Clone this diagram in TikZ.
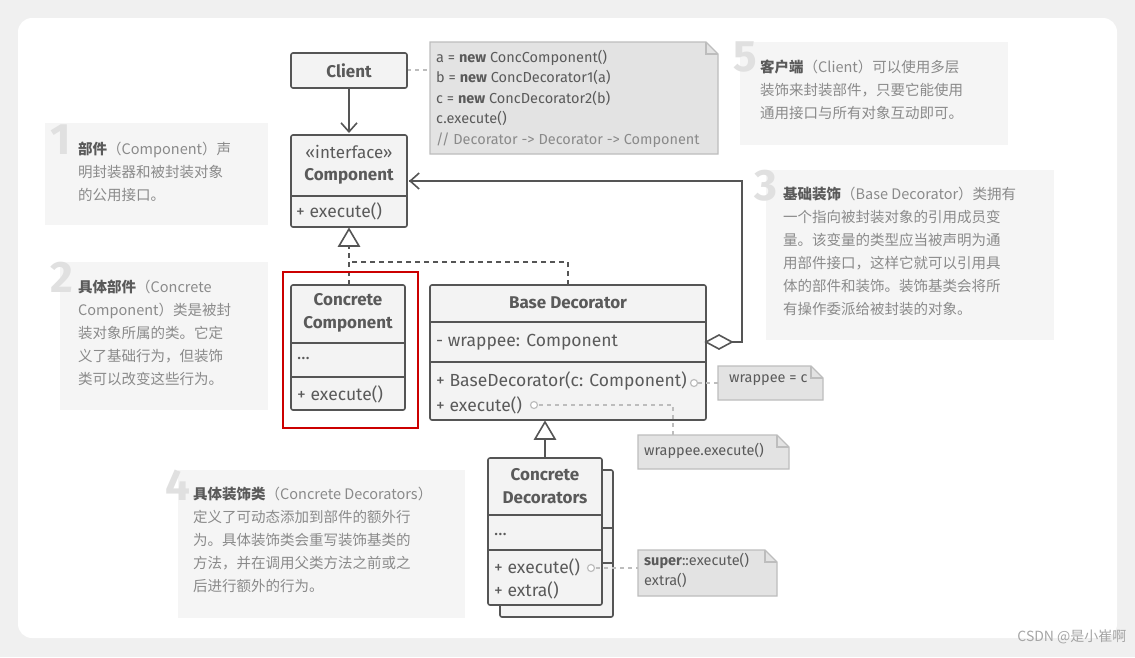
\documentclass[tikz,border=0pt]{standalone}
\usepackage{fontspec}
\setmainfont{Fira Sans}
\newfontfamily\cjk{Noto Sans CJK SC}
\usetikzlibrary{arrows.meta}
\definecolor{ln}{HTML}{555555}
\definecolor{bx}{HTML}{F3F3F3}
\definecolor{nt}{HTML}{E3E3E3}
\definecolor{ntl}{HTML}{BDBDBD}
\definecolor{pan}{HTML}{F5F5F5}
\definecolor{txg}{HTML}{8A8A8A}
\definecolor{txd}{HTML}{5A5A5A}
\tikzset{
 cls/.style={draw=ln,line width=1.6pt,fill=bx,rounded corners=2pt},
 ttl/.style={font=\fontsize{17}{23}\selectfont\bfseries,text=txd},
 mem/.style={font=\fontsize{17.5}{19}\selectfont,text=txd,anchor=west,inner sep=0pt},
 ntxt/.style={font=\fontsize{14.5}{20.5}\selectfont,text=txd,anchor=north west,align=left,inner sep=0pt},
 ptxt/.style={font=\cjk\fontsize{14.5}{23}\selectfont,text=txg,anchor=north west,align=left,inner sep=0pt},
 big/.style={font=\fontsize{44}{44}\selectfont\bfseries,text=black!12,anchor=north west,inner sep=0pt},
 dsh/.style={draw=ntl,line width=1.3pt,dash pattern=on 4pt off 4pt},
 cir/.style={draw=ntl,line width=1.2pt,fill=white},
}
\newcommand{\notebox}[4]{\path[fill=nt,draw=ntl,line width=1.3pt] (#1,#2) -- (#3-12,#2) -- (#3,#2+12) -- (#3,#4) -- (#1,#4) -- cycle;
 \draw[ntl,line width=1.3pt] (#3-12,#2) -- (#3-12,#2+12) -- (#3,#2+12);}
\newcommand{\bb}[1]{{\color{txd}\bfseries #1}}
\begin{document}
\begin{tikzpicture}[x=1pt,y=-1pt]
\useasboundingbox (0,0) rectangle (1135,657);
\fill[black!6] (0,0) rectangle (1135,657);
\fill[white,rounded corners=14pt] (18,18) rectangle (1117,638);
% panels
\fill[pan] (45,123) rectangle (268,225);
\node[big] (n1) at (50,125) {1};
\node[ptxt] (p1) at (78,142) {\bb{部件}（Component）声\\明封装器和被封装对象\\的公用接口。};
\fill[pan] (60,262) rectangle (268,410);
\node[big] (n2) at (50,262) {2};
\node[ptxt] (p2) at (78,280) {\bb{具体部件}（Concrete\\Component）类是被封\\装对象所属的类。它定\\义了基础行为，但装饰\\类可以改变这些行为。};
\fill[pan] (766,170) rectangle (1054,340);
\node[big] (n3) at (754,170) {3};
\node[ptxt] (p3) at (783,187) {\bb{基础装饰}（Base Decorator）类拥有\\一个指向被封装对象的引用成员变\\量。该变量的类型应当被声明为通\\用部件接口，这样它就可以引用具\\体的部件和装饰。装饰基类会将所\\有操作委派给被封装的对象。};
\fill[pan] (178,470) rectangle (465,618);
\node[big] (n4) at (165,470) {4};
\node[ptxt] (p4) at (193,487) {\bb{具体装饰类}（Concrete Decorators）\\定义了可动态添加到部件的额外行\\为。具体装饰类会重写装饰基类的\\方法，并在调用父类方法之前或之\\后进行额外的行为。};
\fill[pan] (740,42) rectangle (1008,145);
\node[big] (n5) at (733,42) {5};
\node[ptxt] (p5) at (760,60) {\bb{客户端}（Client）可以使用多层\\装饰来封装部件，只要它能使用\\通用接口与所有对象互动即可。};
% notes
\notebox{430}{42}{718}{154}
\node[ntxt] (code) at (436,50) {a = \textbf{new} ConcComponent()\\b = \textbf{new} ConcDecorator1(a)\\c = \textbf{new} ConcDecorator2(b)\\c.execute()\\{\color{txg}// Decorator -> Decorator -> Component}};
\notebox{718}{366}{823}{400}
\node[ntxt] (nw) at (729,374) {wrappee = c};
\notebox{638}{435}{789}{469}
\node[ntxt] (ne) at (644,443) {wrappee.execute()};
\notebox{638}{550}{777}{596}
\node[ntxt] (ns) at (644,553) {\textbf{super}::execute()\\extra()};
% connectors (behind)
\draw[dsh] (407,70) -- (430,70);
\draw[ln,line width=1.6pt,dash pattern=on 5pt off 4pt] (349,285) -- (349,245) (568,285) -- (568,262) -- (349,262);
\draw[ln,line width=1.6pt] (706,342) -- (742,342) -- (742,181) -- (409,181);
\draw[ln,line width=1.6pt,-{Straight Barb[length=9pt,width=16pt]}] (742,181) -- (409,181);
\draw[ln,line width=1.6pt,-{Straight Barb[length=9pt,width=16pt]}] (349,88) -- (349,133);
\draw[ln,line width=1.6pt] (545,458) -- (545,438);
% Client
\node[cls,minimum width=116pt,minimum height=35pt,ttl] (client) at (349,70.5) {Client};
% Component
\draw[cls] (291,135) rectangle (407,227);
\draw[ln,line width=1.6pt] (291,196) -- (407,196);
\node[font=\fontsize{17}{18}\selectfont,text=txd] (cst) at (349,152) {«interface»};
\node[ttl] (cn) at (349,176) {Component};
\node[mem] (cm) at (296,211) {+ execute()};
% Concrete Component
\draw[cls] (291,285) rectangle (405,410);
\draw[ln,line width=1.6pt] (291,343) -- (405,343) (291,377) -- (405,377);
\node[ttl,align=center] (cc) at (348,313) {Concrete\\Component};
\node[mem] (ccd) at (297,358) {...};
\node[mem] (cce) at (297,394) {+ execute()};
\draw[red!80!black,line width=1.5pt] (283,272) rectangle (418,428);
% Base Decorator
\draw[cls] (430,285) rectangle (706,420);
\draw[ln,line width=1.6pt] (430,322) -- (706,322) (430,362) -- (706,362);
\node[ttl] (bd) at (568,303) {Base Decorator};
\node[mem] (bw) at (436,342) {- wrappee: Component};
\node[mem] (bc) at (436,381) {+ BaseDecorator(c: Component)};
\node[mem] (be) at (436,405) {+ execute()};
% concrete decorators
\draw[cls] (500,470) rectangle (613,617);
\draw[cls] (488,458) rectangle (602,605);
\draw[ln,line width=1.6pt] (488,515) -- (602,515) (488,550) -- (602,550) (602,528)--(613,528) (602,563)--(613,563);
\node[ttl,align=center] (cd) at (545,486) {Concrete\\Decorators};
\node[mem] (cdd) at (494,534) {...};
\node[mem] (cde) at (494,567) {+ execute()};
\node[mem] (cdx) at (494,590) {+ extra()};
% triangles
\draw[ln,line width=1.6pt,fill=white] (349,229) -- (339,246) -- (359,246) -- cycle;
\draw[ln,line width=1.6pt,fill=white] (545,422) -- (535,439) -- (555,439) -- cycle;
\draw[ln,line width=1.6pt,fill=white] (706,342) -- (719,335) -- (732,342) -- (719,349) -- cycle;
% small dotted links
\draw[dsh] (698,383) -- (718,383);
\draw[cir] (694,383) circle (3.5pt);
\draw[dsh] (539,405) -- (673,405) -- (673,435);
\draw[cir] (534,405) circle (3.5pt);
\draw[dsh] (596,568) -- (638,568);
\draw[cir] (591,568) circle (3.5pt);
\node[font=\cjk\fontsize{14}{16}\selectfont,text=black!35,anchor=east] (wm) at (1130,637) {CSDN @是小崔啊};
\end{tikzpicture}
\end{document}
